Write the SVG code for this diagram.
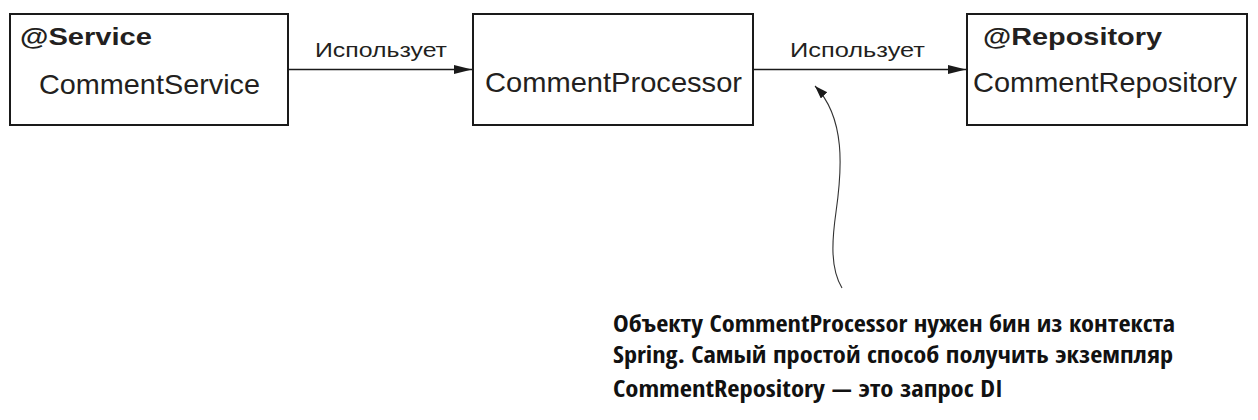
<svg xmlns="http://www.w3.org/2000/svg" width="1258" height="420" viewBox="0 0 1258 420">
  <style>
    .box { fill: #ffffff; stroke: #1a1a1a; stroke-width: 2; }
    .edge { fill: none; stroke: #1a1a1a; stroke-width: 1.6; }
    .curve { fill: none; stroke: #333333; stroke-width: 1.1; }
    .ann { font-family: "Liberation Sans", Arial, sans-serif; font-weight: bold; font-size: 24px; fill: #231f20; }
    .name { font-family: "Liberation Sans", Arial, sans-serif; font-size: 28px; fill: #231f20; }
    .lbl { font-family: "Liberation Sans", Arial, sans-serif; font-size: 21px; fill: #231f20; }
    .note { font-family: "Open Sans Condensed", "Open Sans", "DejaVu Sans Condensed", "DejaVu Sans", sans-serif; font-stretch: condensed; font-weight: bold; font-size: 22.8px; fill: #111111; }
  </style>
  <defs>
    <marker id="arr" markerUnits="userSpaceOnUse" markerWidth="18" markerHeight="10" refX="18" refY="4.5" orient="auto">
      <path d="M0,0 L18,4.5 L0,9 z" fill="#1a1a1a"/>
    </marker>
    <marker id="arrs" markerUnits="userSpaceOnUse" markerWidth="14" markerHeight="10" refX="13" refY="4.5" orient="auto">
      <path d="M0,0 L13,4.5 L0,9 z" fill="#1a1a1a"/>
    </marker>
  </defs>

  <g id="connectors">
    <line class="edge" x1="289" y1="69.5" x2="472" y2="69.5" marker-end="url(#arr)"/>
    <text class="lbl" x="315" y="57" textLength="132" lengthAdjust="spacingAndGlyphs">Использует</text>
    <line class="edge" x1="754" y1="69.5" x2="966" y2="69.5" marker-end="url(#arr)"/>
    <text class="lbl" x="790" y="57" textLength="135" lengthAdjust="spacingAndGlyphs">Использует</text>
    <path class="curve" d="M842,288 C830,268 832,240 836,212 C842,170 846,118 815,86" marker-end="url(#arrs)"/>
  </g>

  <g id="comment-service">
    <rect class="box" x="10" y="14" width="278" height="111"/>
    <text class="ann" x="20" y="45" textLength="132" lengthAdjust="spacingAndGlyphs">@Service</text>
    <text class="name" x="39" y="94" textLength="221" lengthAdjust="spacingAndGlyphs">CommentService</text>
  </g>

  <g id="comment-processor">
    <rect class="box" x="473" y="14" width="280" height="111"/>
    <text class="name" x="485" y="92" textLength="257" lengthAdjust="spacingAndGlyphs">CommentProcessor</text>
  </g>

  <g id="comment-repository">
    <rect class="box" x="967" y="14" width="280" height="111"/>
    <text class="ann" x="983" y="45" textLength="179" lengthAdjust="spacingAndGlyphs">@Repository</text>
    <text class="name" x="973" y="92" textLength="264" lengthAdjust="spacingAndGlyphs">CommentRepository</text>
  </g>

  <g id="note">
    <text class="note" x="613" y="332" textLength="562" lengthAdjust="spacingAndGlyphs">Объекту CommentProcessor нужен бин из контекста</text>
    <text class="note" x="613" y="363" textLength="560" lengthAdjust="spacingAndGlyphs">Spring. Самый простой способ получить экземпляр</text>
    <text class="note" x="613" y="397" textLength="390" lengthAdjust="spacingAndGlyphs">CommentRepository — это запрос DI</text>
  </g>
</svg>
